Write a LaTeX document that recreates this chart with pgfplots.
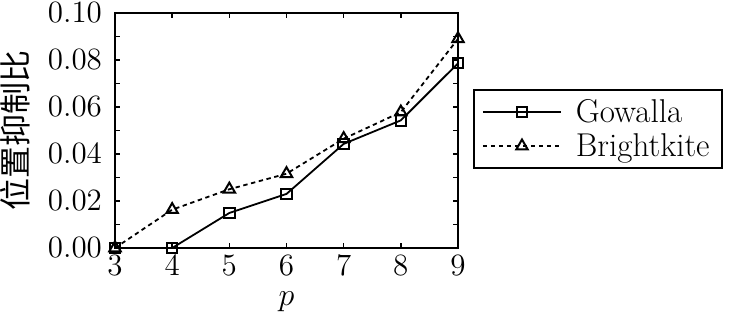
\RequirePackage{fix-cm}
\documentclass[border=0pt]{standalone}
\usepackage{pgfplots}
\pgfplotsset{compat=1.18}
\usepackage{fontspec}
\newfontfamily\tnr{Latin Modern Roman}
\newfontfamily\cjk{Noto Sans CJK SC}
\begin{document}
\begin{tikzpicture}
\begin{axis}[name=ax, scale only axis, width=171.5pt, height=117.5pt,
  xmin=3, xmax=9, ymin=0, ymax=0.1,
  xtick={3,4,5,6,7,8,9}, ytick={0,0.02,0.04,0.06,0.08,0.1}, minor y tick num=1,
  tick align=inside, major tick length=2.5pt, minor tick length=2.5pt,
  tick style={line width=0.8pt, black},
  axis line style={line width=1.2pt},
  yticklabel style={xshift=-3pt, /pgf/number format/.cd, fixed, fixed zerofill, precision=2},
  scaled y ticks=false,
  ticklabel style={font=\fontsize{15.5}{18}\selectfont},
  xlabel={$p$}, ylabel={\cjk 位置抑制比},
  label style={font=\fontsize{16}{19}\selectfont},
  xlabel style={yshift=-1.5pt},
  ylabel style={yshift=2pt},
  legend style={at={(1.044,0.506)}, anchor=west, draw=black, line width=1pt,
    font=\tnr\fontsize{16.5}{20}\selectfont, inner xsep=4pt, inner ysep=2.5pt,
    row sep=0pt, column sep=5pt},
  legend cell align=left,
  legend image code/.code={
    \draw[mark repeat=2,mark phase=2,#1] plot coordinates {(0pt,0pt) (19.5pt,0pt) (39pt,0pt)};
  },
  clip=false,
]
\addplot[black, line width=0.9pt, mark=square, mark size=2.6pt, mark options={solid, fill=white, line width=1pt}]
  coordinates {(3,0) (4,0) (5,0.0149) (6,0.0230) (7,0.0443) (8,0.0543) (9,0.0786)};
\addlegendentry{Gowalla}
\addplot[black, line width=0.9pt, dash pattern=on 2.2pt off 1.8pt, mark=triangle, mark size=3.3pt, mark options={solid, fill=white, line width=1pt}]
  coordinates {(3,0) (4,0.0163) (5,0.0250) (6,0.0316) (7,0.0465) (8,0.0578) (9,0.0890)};
\addlegendentry{Brightkite}
\end{axis}
\pgfresetboundingbox
\path ([shift={(-57.5pt,-32.5pt)}]ax.south west) rectangle ([shift={(136pt,6.5pt)}]ax.north east);
\end{tikzpicture}
\end{document}
